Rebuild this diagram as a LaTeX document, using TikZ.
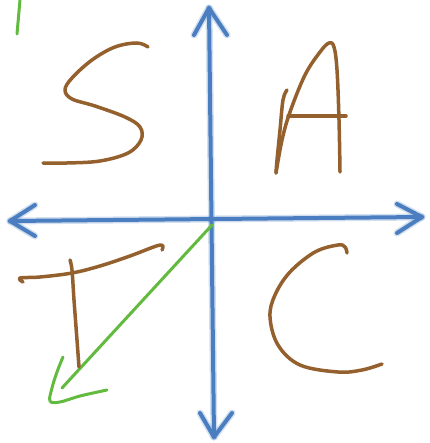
\documentclass[tikz,border=0pt]{standalone}
\definecolor{axisblue}{RGB}{74,126,192}
\definecolor{inkbrown}{RGB}{148,96,45}
\definecolor{inkgreen}{RGB}{98,186,62}
\tikzset{
  axisline/.style={axisblue, line width=4pt, line cap=round, line join=round},
  axisglow/.style={axisblue, opacity=0.25, line width=7pt, line cap=round, line join=round},
  brownink/.style={inkbrown, line width=3.5pt, line cap=round, line join=round},
  greenink/.style={inkgreen, line width=3pt, line cap=round, line join=round}
}
\begin{document}
\begin{tikzpicture}[x=1pt,y=-1pt]
\useasboundingbox (0,0) rectangle (429,443);
% axis end points
\coordinate (top) at (209,8);
\coordinate (bot) at (214,437);
\coordinate (lft) at (10,221);
\coordinate (rgt) at (422,217);
\coordinate (o) at (212,225);
\coordinate (gtip) at (62,388);
% axes (glow + core)
\foreach \s in {axisglow,axisline}{
  \draw[\s] (top) -- (bot);
  \draw[\s] (lft) -- (rgt);
  \draw[\s] (194,35) -- (top) -- (227,35);
  \draw[\s] (200,413) -- (bot) -- (232,413);
  \draw[\s] (35,205) -- (lft) -- (35,236);
  \draw[\s] (397,204) -- (rgt) -- (397,233);
}
% green stroke at top left
\draw[greenink] (20,0) -- (17,34);
% green arrow
\draw[greenink] (o) -- (gtip);
\draw[greenink] plot[smooth, tension=0.6] coordinates {(63,357) (57,372) (52,388) (50,401) (60,402) (80,396) (107,390)};
% S
\draw[brownink] plot[smooth, tension=0.6] coordinates {(148,47) (137,43) (115,47) (92,60) (72,78) (65,90) (72,99) (95,106) (125,117) (140,127) (141,140) (128,153) (100,161) (67,163) (43,163)};
% A
\draw[brownink] plot[smooth, tension=0.6] coordinates {(287,90) (283,100) (280,130) (277,160) (276,173)};
\draw[brownink] plot[smooth, tension=0.6] coordinates {(276,173) (282,140) (290,112) (305,75) (320,52) (329,43) (334,47) (337,70) (339,120) (340,172)};
\draw[brownink] (288,116) -- (346,116);
% T
\draw[brownink] plot[smooth, tension=0.6] coordinates {(23,282) (20,278) (40,277) (72,273) (100,266) (130,256) (160,245) (162,250)};
\draw[brownink] plot[smooth, tension=0.6] coordinates {(70,260) (72,270) (74,300) (77,340) (79,367)};
% C
\draw[brownink] plot[smooth, tension=0.6] coordinates {(347,253) (345,247) (338,245) (315,252) (290,272) (275,295) (270,317) (278,345) (300,365) (338,372) (362,370) (382,364)};
\end{tikzpicture}
\end{document}
